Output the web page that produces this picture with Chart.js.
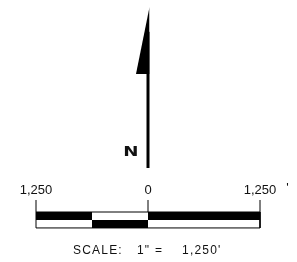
<!DOCTYPE html>
<html>
<head>
<meta charset="utf-8">
<script src="https://cdn.jsdelivr.net/npm/chart.js@4/dist/chart.umd.min.js"></script>
<style>
  html, body { margin: 0; padding: 0; background: #fff; }
  #wrap { width: 297px; height: 262px; position: relative; }
</style>
</head>
<body>
<div id="wrap"><canvas id="NorthScale"></canvas></div>
<script>
// scale bar values, in feet
var scaleTicks = [-1250, 0, 1250];
var scaleLabels = ['1,250', '0', '1,250'];
var unitMark = "'";
var topRowBlack = [[-1250, -625], [0, 1250]];
var bottomRowBlack = [[-625, 0]];
var scaleText = ['SCALE:', '1"', '=', "1,250'"];

// north arrow, drawn in the same feet units (x = across, y = up)
var arrowShaftY = [580, 2100];
var arrowHeadX = [-134, 17];
var arrowHeadY = [1629, 2377];
var northLabel = 'N';

var barHalf = 89;     // half height of the bar
var tickTop = 223;    // top of the tick marks

var datasets = [];

// black pieces of the upper row
topRowBlack.forEach(function (seg) {
    datasets.push({
        data: [{x: seg[0], y: barHalf}, {x: seg[1], y: barHalf}],
        borderWidth: 0, backgroundColor: '#000', fill: {value: 0}
    });
});

// black pieces of the lower row
bottomRowBlack.forEach(function (seg) {
    datasets.push({
        data: [{x: seg[0], y: -barHalf}, {x: seg[1], y: -barHalf}],
        borderWidth: 0, backgroundColor: '#000', fill: {value: 0}
    });
});

// outline of the bar
var lo = scaleTicks[0], hi = scaleTicks[scaleTicks.length - 1];
datasets.push({
    data: [{x: lo, y: barHalf}, {x: hi, y: barHalf}, {x: hi, y: -barHalf},
           {x: lo, y: -barHalf}, {x: lo, y: barHalf}],
    borderWidth: 1, borderColor: '#000', fill: false
});

// tick marks
scaleTicks.forEach(function (t) {
    datasets.push({
        data: [{x: t, y: barHalf}, {x: t, y: tickTop}],
        borderWidth: 1, borderColor: '#000', fill: false
    });
});

// arrow shaft
datasets.push({
    data: [{x: 0, y: arrowShaftY[0]}, {x: 0, y: arrowShaftY[1]}],
    borderWidth: 3, borderColor: '#000', fill: false
});

// arrow head (half barb on the left)
datasets.push({
    data: [{x: arrowHeadX[0], y: arrowHeadY[0]}, {x: arrowHeadX[1], y: arrowHeadY[1]}],
    borderWidth: 0, backgroundColor: '#000', fill: {value: arrowHeadY[0]}
});

// text labels
var labelPlugin = {
    id: 'labels',
    afterDatasetsDraw: function (chart) {
        var c = chart.ctx, xs = chart.scales.x, ys = chart.scales.y;
        c.save();
        c.fillStyle = '#111';
        c.textBaseline = 'middle';

        // tick labels
        c.font = '13px "Liberation Sans", Arial, sans-serif';
        c.textAlign = 'center';
        var ly = ys.getPixelForValue(335);
        scaleTicks.forEach(function (t, i) {
            c.fillText(scaleLabels[i], xs.getPixelForValue(t), ly);
        });
        var lastX = xs.getPixelForValue(hi) + c.measureText(scaleLabels[2]).width / 2;
        c.textAlign = 'left';
        c.fillText(unitMark, lastX + 10, ly - 2);

        // scale statement
        c.font = '12px "Liberation Sans", Arial, sans-serif';
        c.letterSpacing = '1.2px';
        var sy = ys.getPixelForValue(-346);
        var sx = [-837, -123, 78, 380];
        scaleText.forEach(function (s, i) {
            c.fillText(s, xs.getPixelForValue(sx[i]), sy);
        });
        c.letterSpacing = '0px';

        // N
        c.font = 'bold 14px "DejaVu Sans", sans-serif';
        c.textAlign = 'center';
        c.translate(xs.getPixelForValue(-190), ys.getPixelForValue(759));
        c.scale(1.3, 1);
        c.fillText(northLabel, 0, 0);
        c.restore();
    }
};

var myChart = new Chart($id('NorthScale'), {
    type: 'line',
    data: { datasets: datasets },
    options: {
        responsive: true,
        maintainAspectRatio: false,
        animation: false,
        layout: { padding: { left: 36, right: 37, top: 0, bottom: 0 } },
        elements: {
            point: { radius: 0, hoverRadius: 0 },
            line: { tension: 0, borderCapStyle: 'butt' }
        },
        scales: {
            x: { type: 'linear', min: -1250, max: 1250, display: false },
            y: { type: 'linear', min: -469, max: 2455, display: false }
        },
        plugins: {
            legend: { display: false },
            tooltip: { enabled: false },
            title: { display: false }
        },
        datasets: { line: { clip: false } }
    },
    plugins: [labelPlugin]
});

function $id(id) { return document.getElementById(id); }
</script>
</body>
</html>
